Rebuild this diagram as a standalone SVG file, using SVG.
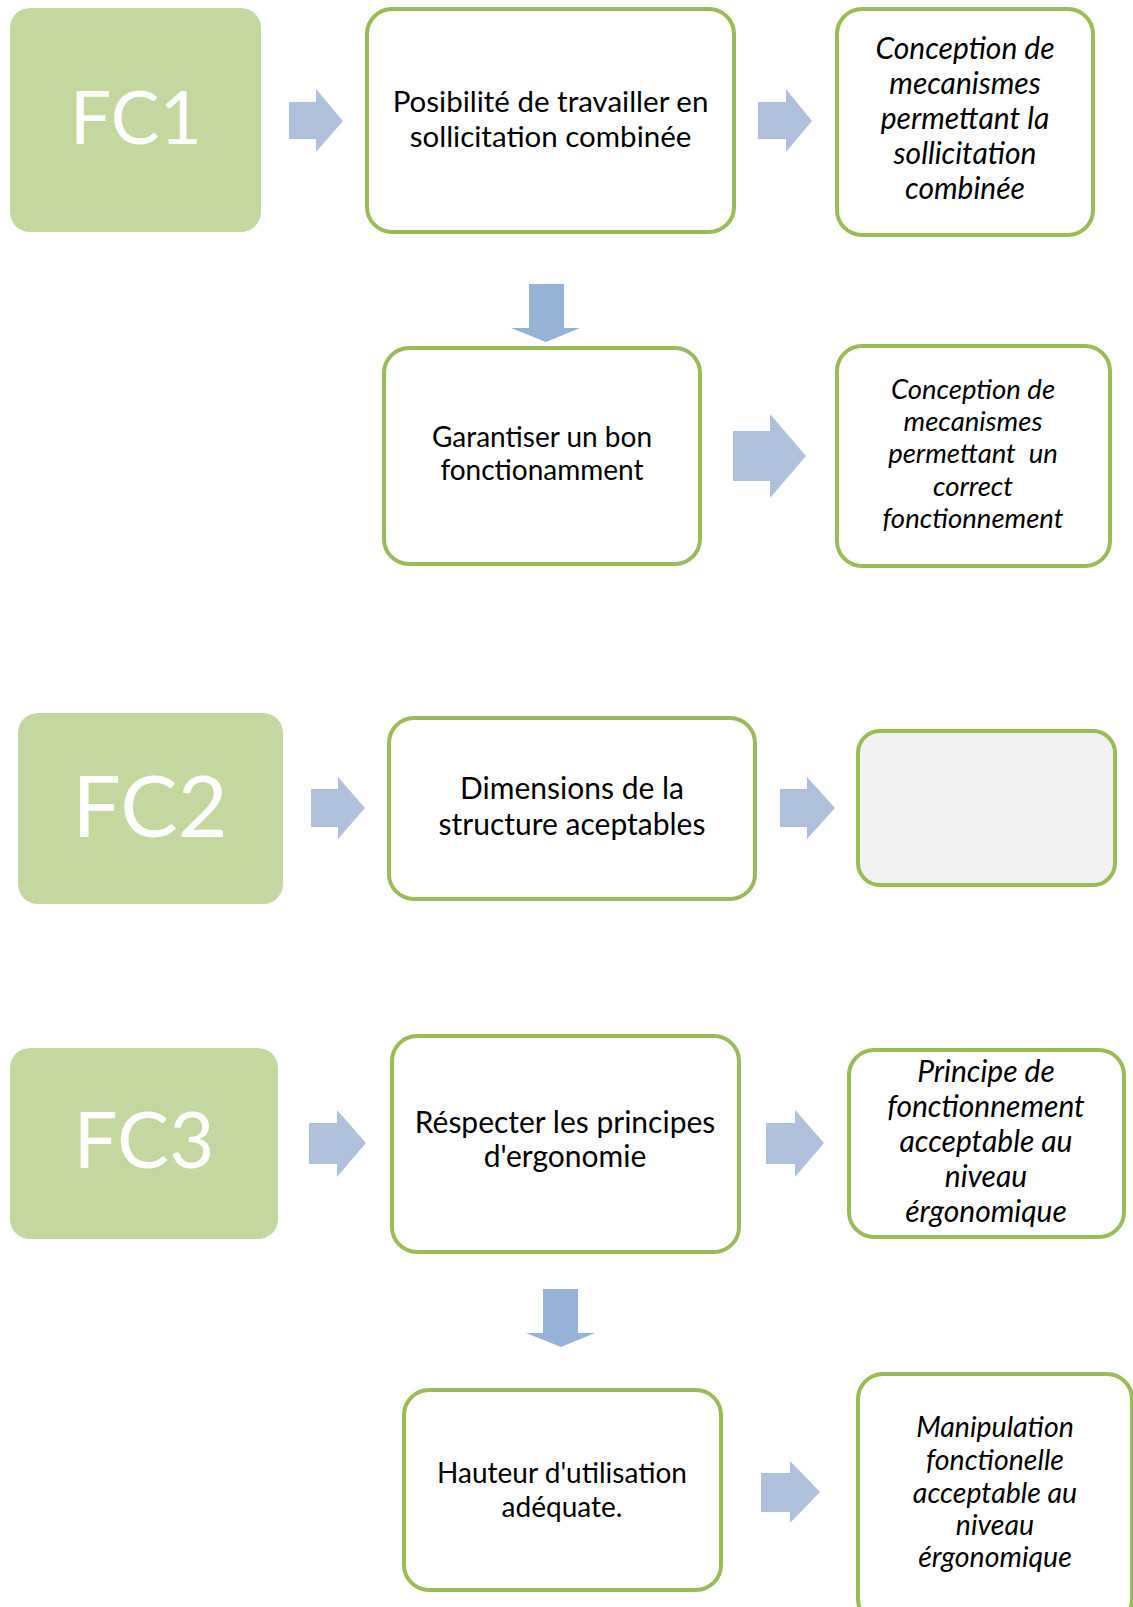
<svg xmlns="http://www.w3.org/2000/svg" width="1133" height="1607" viewBox="0 0 1133 1607">
<style>
.fc{fill:#C4D79E}
.fct{fill:#FFFFFF;font-family:Lato,"Liberation Sans",sans-serif;text-anchor:middle}
.bx{fill:#FFFFFF;stroke:#9BBB59;stroke-width:4}
.t{fill:#000000;font-family:Lato,"Liberation Sans",sans-serif;text-anchor:middle}
.i{font-style:italic}
.ra{fill:#B0C1DD}
.da{fill:#95B3D7}
</style>
<rect width="1133" height="1607" fill="#FFFFFF"/>
<g id="connectors">
<polygon class="ra" points="289,102 316,102 316,89 343,121 316,152 316,139 289,139"/>
<polygon class="ra" points="758,102 786,102 786,89 812,121 786,152 786,139 758,139"/>
<polygon class="da" points="529,284 564,284 564,328 580,328 546,342 511,328 529,328"/>
<polygon class="ra" points="733,431 770,431 770,414 806,456 770,498 770,481 733,481"/>
<polygon class="ra" points="311,789 338,789 338,777 365,808 338,839 338,827 311,827"/>
<polygon class="ra" points="780,789 807,789 807,777 835,808 807,839 807,827 780,827"/>
<polygon class="ra" points="309,1123 337,1123 337,1110 366,1143 337,1177 337,1164 309,1164"/>
<polygon class="ra" points="766,1123 795,1123 795,1110 824,1143 795,1177 795,1164 766,1164"/>
<polygon class="da" points="543,1289 578,1289 578,1333 595,1333 561,1347 526,1333 543,1333"/>
<polygon class="ra" points="761,1473 790,1473 790,1461 820,1492 790,1523 790,1512 761,1512"/>
</g>
<g id="fc1">
<rect class="fc" x="10" y="8" width="251" height="224" rx="20"/>
<text class="fct" x="136" y="144" font-size="73">FC1</text>
</g>
<g id="n-posibilite">
<rect class="bx" x="367" y="9" width="367" height="223" rx="25"/>
<text class="t" font-size="29.5"><tspan x="550.5" y="112">Posibilité de travailler en</tspan><tspan x="550.5" y="147">sollicitation combinée</tspan></text>
</g>
<g id="n-conception1">
<rect class="bx" x="837" y="9" width="256" height="226" rx="25"/>
<text class="t i" font-size="30"><tspan x="965" y="59">Conception de</tspan><tspan x="965" y="94">mecanismes</tspan><tspan x="965" y="129">permettant la</tspan><tspan x="965" y="164">sollicitation</tspan><tspan x="965" y="199">combinée</tspan></text>
</g>
<g id="n-garantiser">
<rect class="bx" x="384" y="348" width="316" height="216" rx="25"/>
<text class="t" font-size="28"><tspan x="542" y="447">Garantiser un bon</tspan><tspan x="542" y="480">fonctionamment</tspan></text>
</g>
<g id="n-conception2">
<rect class="bx" x="837" y="346" width="273" height="220" rx="25"/>
<text class="t i" font-size="27.5" xml:space="preserve"><tspan x="973" y="399">Conception de</tspan><tspan x="973" y="431">mecanismes</tspan><tspan x="973" y="463">permettant  un</tspan><tspan x="973" y="496">correct</tspan><tspan x="973" y="528">fonctionnement</tspan></text>
</g>
<g id="fc2">
<rect class="fc" x="18" y="713" width="265" height="191" rx="20"/>
<text class="fct" x="150" y="837" font-size="86">FC2</text>
</g>
<g id="n-dimensions">
<rect class="bx" x="389" y="718" width="366" height="181" rx="25"/>
<text class="t" font-size="30"><tspan x="572" y="799">Dimensions de la</tspan><tspan x="572" y="835">structure aceptables</tspan></text>
</g>
<g id="n-empty">
<rect class="bx" x="858" y="731" width="257" height="154" rx="22" style="fill:#F2F2F2"/>
</g>
<g id="fc3">
<rect class="fc" x="10" y="1048" width="268" height="191" rx="20"/>
<text class="fct" x="144" y="1168" font-size="78">FC3</text>
</g>
<g id="n-respecter">
<rect class="bx" x="392" y="1036" width="347" height="216" rx="25"/>
<text class="t" font-size="30"><tspan x="565" y="1133">Réspecter les principes</tspan><tspan x="565" y="1167">d'ergonomie</tspan></text>
</g>
<g id="n-principe">
<rect class="bx" x="849" y="1050" width="275" height="187" rx="25"/>
<text class="t i" font-size="30"><tspan x="986" y="1082">Principe de</tspan><tspan x="986" y="1117">fonctionnement</tspan><tspan x="986" y="1152">acceptable au</tspan><tspan x="986" y="1187">niveau</tspan><tspan x="986" y="1222">érgonomique</tspan></text>
</g>
<g id="n-hauteur">
<rect class="bx" x="404" y="1390" width="317" height="200" rx="25"/>
<text class="t" font-size="28"><tspan x="562" y="1483">Hauteur d'utilisation</tspan><tspan x="562" y="1517">adéquate.</tspan></text>
</g>
<g id="n-manipulation">
<rect class="bx" x="858" y="1374" width="274" height="250" rx="25"/>
<text class="t i" font-size="28.5"><tspan x="995" y="1437">Manipulation</tspan><tspan x="995" y="1470">fonctionelle</tspan><tspan x="995" y="1503">acceptable au</tspan><tspan x="995" y="1535">niveau</tspan><tspan x="995" y="1567">érgonomique</tspan></text>
</g>
</svg>
